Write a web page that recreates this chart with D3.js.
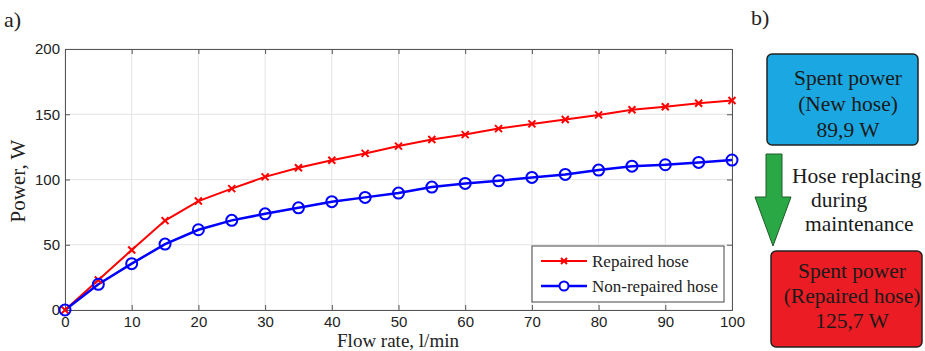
<!DOCTYPE html>
<html>
<head>
<meta charset="utf-8">
<script src="https://cdn.jsdelivr.net/npm/d3@7"></script>
<style>
  body { margin: 0; background: #fff; }
  svg { display: block; }
</style>
</head>
<body>
<div id="chart"></div>
<script>
// data
var flowRate = [0, 5, 10, 15, 20, 25, 30, 35, 40, 45, 50, 55, 60, 65, 70, 75, 80, 85, 90, 95, 100];
var repaired = [0, 23, 46, 68.5, 83.5, 93, 102, 109, 114.8, 120, 125.6, 130.7, 134.4, 139, 142.6, 146, 149.5, 153.5, 155.7, 158.4, 160.5];
var nonRepaired = [0, 19.7, 35.5, 50.5, 61.5, 68.7, 73.7, 78.3, 83, 86.3, 89.6, 94.2, 97, 99, 101.6, 103.9, 107.2, 110.2, 111.3, 113.1, 114.9];
var seriesNames = ["Repaired hose", "Non-repaired hose"];
var xTicks = [0, 10, 20, 30, 40, 50, 60, 70, 80, 90, 100];
var yTicks = [0, 50, 100, 150, 200];
var newHoseText = ["Spent power", "(New hose)", "89,9 W"];
var repairedText = ["Spent power", "(Repaired hose)", "125,7 W"];
var arrowText = ["Hose replacing", "during", "maintenance"];

var W = 925, H = 351;
var margin = {top: 49, left: 65, right: 193, bottom: 41};
var width = W - margin.left - margin.right,
    height = H - margin.top - margin.bottom;

var serif = "'Liberation Serif', 'Times New Roman', serif";
var sans = "'Liberation Sans', Arial, sans-serif";

var svg = d3.select("#chart").append("svg")
    .attr("width", W)
    .attr("height", H);

var g = svg.append("g")
    .attr("transform", "translate(" + margin.left + "," + margin.top + ")");

var x = d3.scaleLinear().domain([0, 100]).range([0, width]);
var y = d3.scaleLinear().domain([0, 200]).range([height, 0]);

// grid
g.selectAll(".vgrid").data(xTicks).enter().append("line")
    .attr("x1", d => x(d)).attr("x2", d => x(d))
    .attr("y1", 0).attr("y2", height)
    .attr("stroke", "#e3e3e3").attr("stroke-width", 1);
g.selectAll(".hgrid").data(yTicks).enter().append("line")
    .attr("x1", 0).attr("x2", width)
    .attr("y1", d => y(d)).attr("y2", d => y(d))
    .attr("stroke", "#e3e3e3").attr("stroke-width", 1);

// axes (inward ticks, matlab box)
var xAxis = d3.axisBottom(x).tickValues(xTicks).tickSize(-5).tickPadding(6);
var yAxis = d3.axisLeft(y).tickValues(yTicks).tickSize(-5).tickPadding(5);

g.append("g").attr("transform", "translate(0," + height + ")").call(xAxis);
g.append("g").call(yAxis);
g.append("g").call(d3.axisTop(x).tickValues(xTicks).tickSize(-5).tickFormat(""));
g.append("g").attr("transform", "translate(" + width + ",0)")
    .call(d3.axisRight(y).tickValues(yTicks).tickSize(-5).tickFormat(""));

g.selectAll(".domain").attr("stroke", "#555");
g.selectAll(".tick line").attr("stroke", "#555");
g.selectAll(".tick text").attr("font-family", sans).attr("font-size", 15).attr("fill", "#222");

// series
var line = d3.line().x((d, i) => x(flowRate[i])).y(d => y(d));

g.append("path").datum(repaired)
    .attr("d", line).attr("fill", "none").attr("stroke", "#ff0000").attr("stroke-width", 2);
g.append("path").datum(nonRepaired)
    .attr("d", line).attr("fill", "none").attr("stroke", "#0000ff").attr("stroke-width", 2.5);

function cross(sel, cx, cy, s) {
  sel.append("path")
    .attr("d", "M" + (cx - s) + "," + (cy - s) + "L" + (cx + s) + "," + (cy + s) +
               "M" + (cx - s) + "," + (cy + s) + "L" + (cx + s) + "," + (cy - s))
    .attr("stroke", "#ff0000").attr("stroke-width", 2);
}

repaired.forEach(function(d, i) { cross(g, x(flowRate[i]), y(d), 3.5); });

g.selectAll(".dot").data(nonRepaired).enter().append("circle")
    .attr("cx", (d, i) => x(flowRate[i]))
    .attr("cy", d => y(d))
    .attr("r", 5.5)
    .attr("fill", "none").attr("stroke", "#0000ff").attr("stroke-width", 2);

// legend
var lg = svg.append("g").attr("transform", "translate(532,246)");
lg.append("rect").attr("width", 192).attr("height", 56)
    .attr("fill", "#fff").attr("stroke", "#444").attr("stroke-width", 1);
lg.append("line").attr("x1", 9).attr("x2", 55).attr("y1", 15).attr("y2", 15)
    .attr("stroke", "#ff0000").attr("stroke-width", 2);
cross(lg, 32, 15, 3);
lg.append("line").attr("x1", 9).attr("x2", 55).attr("y1", 40).attr("y2", 40)
    .attr("stroke", "#0000ff").attr("stroke-width", 2.5);
lg.append("circle").attr("cx", 32).attr("cy", 40).attr("r", 4.5)
    .attr("fill", "#fff").attr("stroke", "#0000ff").attr("stroke-width", 2);
lg.selectAll(".lt").data(seriesNames).enter().append("text")
    .attr("x", 60).attr("y", (d, i) => 21 + i * 25)
    .attr("font-family", serif).attr("font-size", 17).attr("fill", "#222")
    .text(d => d);

// axis titles
svg.append("text")
    .attr("x", 398).attr("y", 347)
    .attr("text-anchor", "middle")
    .attr("font-family", serif).attr("font-size", 19).attr("fill", "#222")
    .text("Flow rate, l/min");
svg.append("text")
    .attr("transform", "translate(25,181) rotate(-90)")
    .attr("text-anchor", "middle")
    .attr("font-family", serif).attr("font-size", 21).attr("fill", "#222")
    .text("Power, W");

// panel labels
svg.append("text").attr("x", 4).attr("y", 27)
    .attr("font-family", serif).attr("font-size", 22).attr("fill", "#222").text("a)");
svg.append("text").attr("x", 751).attr("y", 25)
    .attr("font-family", serif).attr("font-size", 22).attr("fill", "#222").text("b)");

// panel b: boxes and arrow
function box(x0, y0, w, h, fill, lines, first, step, tx) {
  svg.append("rect").attr("x", x0).attr("y", y0).attr("width", w).attr("height", h)
      .attr("rx", 5).attr("fill", fill).attr("stroke", "#222").attr("stroke-width", 1.5);
  svg.selectAll(null).data(lines).enter().append("text")
      .attr("x", tx).attr("y", (d, i) => y0 + first + i * step)
      .attr("text-anchor", "middle")
      .attr("font-family", serif).attr("font-size", 21.5).attr("fill", "#1a1a1a")
      .text(d => d);
}
box(767, 54, 151, 91, "#1ba8e2", newHoseText, 31, 26, 848);
box(771, 251, 151, 96, "#ec1c24", repairedText, 27, 25, 852);

svg.append("path")
    .attr("d", "M766,154 L782,154 L782,197 L791,197 L773,246 L755,197 L766,197 Z")
    .attr("fill", "#2aa845").attr("stroke", "#1f5a2a").attr("stroke-width", 1);

svg.selectAll(".at").data(arrowText).enter().append("text")
    .attr("x", (d, i) => [792, 811, 805][i])
    .attr("y", (d, i) => [183, 207, 231][i])
    .attr("font-family", serif).attr("font-size", 21.5).attr("fill", "#1a1a1a")
    .text(d => d);
</script>
</body>
</html>
